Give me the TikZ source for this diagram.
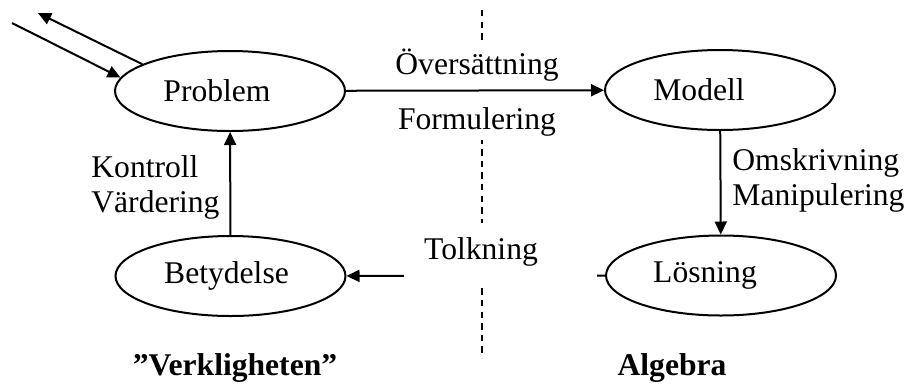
\documentclass[tikz,border=0pt]{standalone}
\usepackage{fontspec}
\setmainfont{Liberation Serif}
\usetikzlibrary{shapes.geometric,arrows.meta}
\tikzset{
  oval/.style={ellipse,draw,line width=1pt,minimum width=115pt,minimum height=40pt,inner sep=0pt,font=\fontsize{15.8}{17.5}\selectfont},
  lbl/.style={inner sep=0pt,font=\fontsize{15.8}{17.5}\selectfont},
  ttl/.style={inner sep=0pt,font=\fontsize{15.8}{17.5}\selectfont\bfseries},
  arr/.style={line width=1pt,-{Triangle[length=6.5pt,width=6pt]}},
  sep/.style={line width=0.7pt,dash pattern=on 3.2pt off 2.6pt},
  cover/.style={fill=white,draw=none}
}
\begin{document}
\begin{tikzpicture}[x=0.5pt,y=-0.5pt]
\useasboundingbox (0,0) rectangle (908,387);
% separator
\coordinate (s1) at (482,10);
\coordinate (s2) at (482,358);
\draw[sep] (s1) -- (s2);
% nodes
\node[oval] (prob) at (230,91) {Problem\hspace*{13pt}};
\node[oval] (mod) at (720,90) {Modell\hspace*{21pt}};
\node[oval] (bet) at (230.5,276) {Betydelse\hspace*{4pt}};
\node[oval] (los) at (721,275.5) {Lösning\hspace*{16pt}};
% covers behind labels
\fill[cover] (418,44) rectangle (545,140);
% connectors
\draw[arr] (prob) -- (mod);
\draw[arr] (mod) -- (los);
\draw[arr] (los) -- (bet);
\draw[arr] (bet) -- (prob);
\coordinate (o1) at (38,13);
\coordinate (i1) at (12,23);
\draw[arr] (prob.163) -- (o1);
\draw[arr] (i1) -- (prob.173.5);
\fill[cover] (404,223) rectangle (597,288);
% labels
\node[lbl] (l1) at (477,65) {Översättning};
\node[lbl] (l2) at (477,122) {Formulering};
\node[lbl] (l3) at (481,252) {Tolkning};
\node[lbl,align=left,anchor=west] (l4) at (91,187) {Kontroll\\Värdering};
\node[lbl,align=left,anchor=west] (l5) at (732,180) {Omskrivning\\Manipulering};
\node[ttl] (t1) at (235,368) {”Verkligheten”};
\node[ttl] (t2) at (672,368) {Algebra};
\end{tikzpicture}
\end{document}
